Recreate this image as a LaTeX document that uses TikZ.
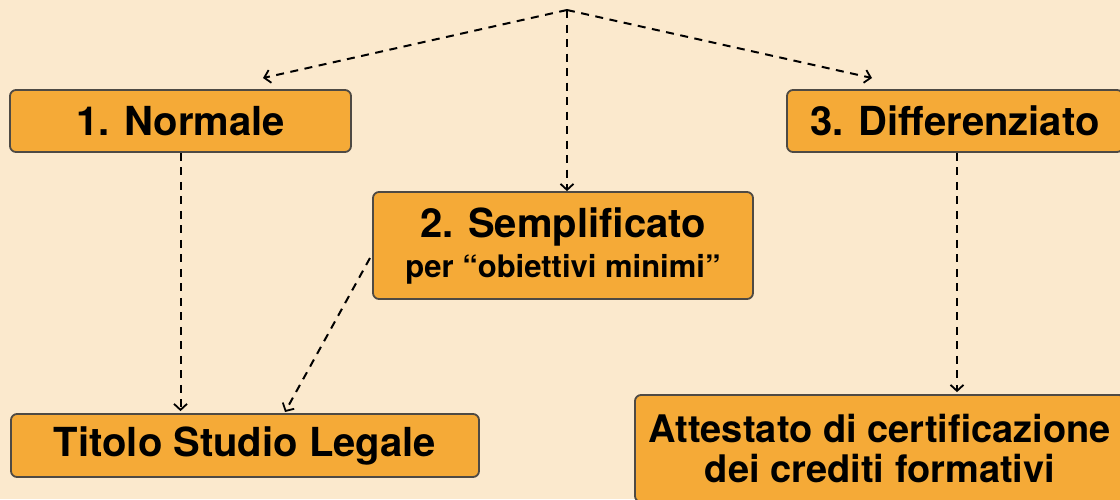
\documentclass[tikz,border=0pt]{standalone}
\usepackage{fontspec}
\setmainfont{TeX Gyre Heros}
\usepackage{tikz}
\usetikzlibrary{arrows.meta,positioning}
\definecolor{bgcream}{RGB}{251,233,205}
\definecolor{boxorange}{RGB}{245,170,55}
\definecolor{boxedge}{RGB}{78,74,68}
\tikzset{
optbox/.style={draw=boxedge, fill=boxorange, line width=1.8pt, rounded corners=6pt, inner sep=0pt, align=center},
bigtext/.style={font=\bfseries\fontsize{40}{44}\selectfont},
dasharrow/.style={dash pattern={on 8pt off 6.5pt}, line width=2pt, -{Straight Barb[length=6pt,width=13pt,line width=1.8pt]}}
}
\begin{document}
\begin{tikzpicture}[x=1pt,y=1pt,yscale=-1,xscale=1]
\useasboundingbox (0,0) rectangle (1120,499);
%Background
\fill [bgcream] (0,0) rectangle (1120,499);

%Shape: Rectangle [normale]
\node (normale) at (180.5,121) [optbox, bigtext, minimum width=341pt, minimum height=62pt] {1. Normale};
%Shape: Rectangle [semplificato]
\node (sempl) at (563,245.5) [optbox, minimum width=380pt, minimum height=107pt, font=\bfseries\fontsize{40}{40}\selectfont] {2. Semplificato\\{\fontsize{31}{40}\selectfont per “obiettivi minimi”}};
%Shape: Rectangle [differenziato]
\node (diff) at (955,121) [optbox, bigtext, minimum width=336pt, minimum height=62pt] {3. Differenziato};
%Shape: Rectangle [titolo]
\node (titolo) at (245,445.5) [optbox, bigtext, minimum width=468pt, minimum height=63pt] {Titolo Studio Legale};
%Shape: Rectangle [attestato]
\node (attest) at (880,448.5) [optbox, minimum width=490pt, minimum height=107pt, font=\bfseries\fontsize{38}{40}\selectfont] {Attestato di certificazione\\dei crediti formativi};

% free ends
\coordinate (apex) at (567,10);
\coordinate (tipnorm) at (263,78);
\coordinate (tipdiff) at (872,78);
\coordinate (semplout) at (370,258);
\coordinate (tiptit) at (285,412);

%Straight Lines [apex to options]
\draw [dasharrow] (apex) -- (tipnorm);
\draw [dasharrow] (apex) -- (tipdiff);
\draw [dasharrow] (apex) -- (apex |- sempl.north);
%Straight Lines [options to results]
\draw [dasharrow, shorten >=2pt] (normale.south) -- (normale.south |- titolo.north);
\draw [dasharrow] (semplout) -- (tiptit);
\draw [dasharrow, shorten >=2pt] ([xshift=2pt]diff.south) -- ([xshift=2pt]diff.south |- attest.north);
\end{tikzpicture}
\end{document}
